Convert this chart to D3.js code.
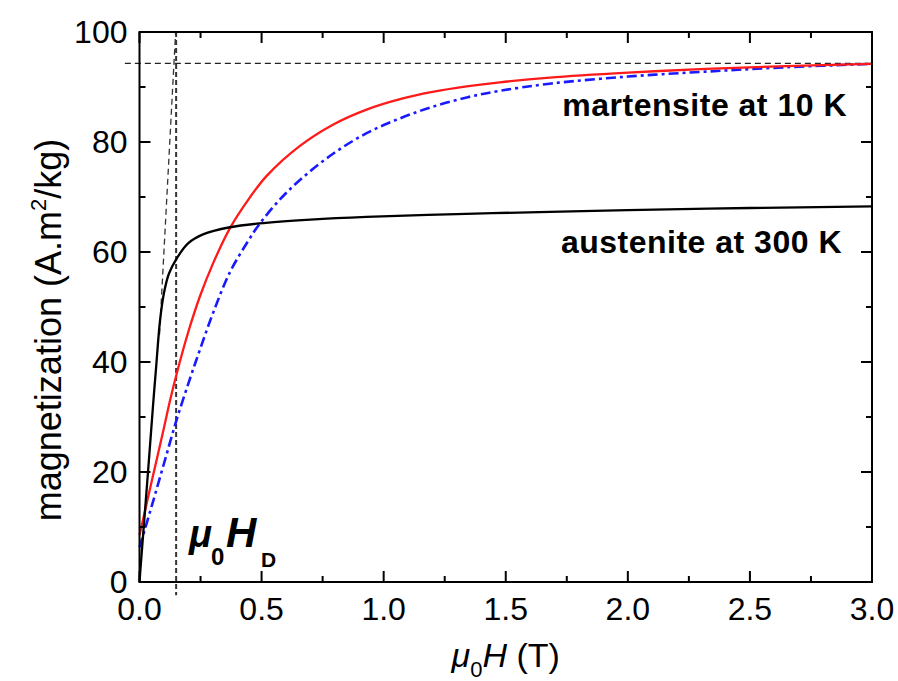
<!DOCTYPE html>
<html>
<head>
<meta charset="utf-8">
<script src="https://cdn.jsdelivr.net/npm/d3@7"></script>
<style>
  body { margin: 0; background: #fff; }
  svg { display: block; font-family: "Liberation Sans", Arial, Helvetica, sans-serif; }
</style>
</head>
<body>
<svg id="chart" width="898" height="681"></svg>
<script>
// field (T) and magnetization (A.m2/kg)
var austenite300K = [
  [0, 0], [0.005, 3], [0.02, 11.5], [0.04, 23], [0.057, 33], [0.068, 39],
  [0.084, 47.5], [0.1, 52.5], [0.12, 56], [0.152, 58.8], [0.2, 61.6], [0.26, 63.2],
  [0.37, 64.5], [0.49, 65.2], [0.7, 65.9], [0.93, 66.4], [1.3, 66.9], [1.68, 67.3],
  [2.0, 67.6], [2.5, 68.0], [3.0, 68.3]
];
var martensite10K = [
  [0, 8.5], [0.05, 18.3], [0.1, 28], [0.125, 33], [0.156, 38.5], [0.2, 45.5],
  [0.248, 52], [0.3, 57.8], [0.37, 64.3], [0.45, 69.8], [0.52, 73.8], [0.657, 79.3],
  [0.794, 83.2], [0.93, 85.9], [1.067, 87.8], [1.2, 89.1], [1.34, 90.1], [1.476, 90.85],
  [1.68, 91.7], [2.0, 92.6], [2.32, 93.3], [2.65, 93.8], [3.0, 94.2]
];
var martensiteDash = [
  [0, 6.3], [0.05, 13.8], [0.1, 21.5], [0.152, 29.5], [0.207, 37], [0.248, 42.3],
  [0.302, 49], [0.37, 56.3], [0.445, 62], [0.49, 65], [0.57, 69.3], [0.657, 73.1],
  [0.794, 77.9], [0.93, 81.6], [1.067, 84.3], [1.2, 86.4], [1.34, 88.1], [1.476, 89.3],
  [1.68, 90.6], [2.0, 91.9], [2.32, 92.8], [2.65, 93.6], [3.0, 94.2]
];
var saturationM = 94.3;
var demagH = 0.15;
var slopeLine = [[0.082, 45], [0.148, 100]];
var xTicks = [0, 0.5, 1.0, 1.5, 2.0, 2.5, 3.0];
var yTicks = [0, 20, 40, 60, 80, 100];

var svg = d3.select("#chart");
var plotL = 139.5, plotR = 872, plotT = 32, plotB = 582;

var x = d3.scaleLinear().domain([0, 3]).range([plotL, plotR]);
var y = d3.scaleLinear().domain([0, 100]).range([plotB, plotT]);

var line = d3.line()
  .x(function(d) { return x(d[0]); })
  .y(function(d) { return y(d[1]); })
  .curve(d3.curveCatmullRom.alpha(0.5));

// reference dashed lines
svg.append("line")
  .attr("x1", x(-0.06)).attr("x2", x(3))
  .attr("y1", y(saturationM)).attr("y2", y(saturationM))
  .attr("stroke", "#222").attr("stroke-width", 1.3)
  .attr("stroke-dasharray", "6,4");

svg.append("line")
  .attr("x1", x(demagH)).attr("x2", x(demagH))
  .attr("y1", y(100)).attr("y2", y(-2.4))
  .attr("stroke", "#333").attr("stroke-width", 2)
  .attr("stroke-dasharray", "5,3");

svg.append("line")
  .attr("x1", x(slopeLine[0][0])).attr("y1", y(slopeLine[0][1]))
  .attr("x2", x(slopeLine[1][0])).attr("y2", y(slopeLine[1][1]))
  .attr("stroke", "#333").attr("stroke-width", 1.3)
  .attr("stroke-dasharray", "6,4");

// curves
svg.append("path").datum(martensiteDash)
  .attr("d", line).attr("fill", "none")
  .attr("stroke", "#1a1aff").attr("stroke-width", 2.6)
  .attr("stroke-dasharray", "10,4,3,4");

svg.append("path").datum(martensite10K)
  .attr("d", line).attr("fill", "none")
  .attr("stroke", "#ff1a1a").attr("stroke-width", 2.3);

svg.append("path").datum(austenite300K)
  .attr("d", line).attr("fill", "none")
  .attr("stroke", "#000").attr("stroke-width", 2.3);

// frame and ticks (inward on all sides)
var xMinor = d3.range(0.25, 3, 0.5);
var yMinor = d3.range(10, 100, 20);

var frame = svg.append("g");
frame.append("rect")
  .attr("x", plotL).attr("y", plotT)
  .attr("width", plotR - plotL).attr("height", plotB - plotT)
  .attr("fill", "none").attr("stroke", "#000").attr("stroke-width", 2);

function xTick(v, len) {
  frame.append("line").attr("x1", x(v)).attr("x2", x(v))
    .attr("y1", plotB).attr("y2", plotB - len)
    .attr("stroke", "#000").attr("stroke-width", 2);
  frame.append("line").attr("x1", x(v)).attr("x2", x(v))
    .attr("y1", plotT).attr("y2", plotT + len)
    .attr("stroke", "#000").attr("stroke-width", 2);
}
function yTick(v, len) {
  frame.append("line").attr("y1", y(v)).attr("y2", y(v))
    .attr("x1", plotL).attr("x2", plotL + len)
    .attr("stroke", "#000").attr("stroke-width", 2);
  frame.append("line").attr("y1", y(v)).attr("y2", y(v))
    .attr("x1", plotR).attr("x2", plotR - len)
    .attr("stroke", "#000").attr("stroke-width", 2);
}
xTicks.forEach(function(v) { xTick(v, 11); });
xMinor.forEach(function(v) { xTick(v, 6); });
yTicks.forEach(function(v) { yTick(v, 11); });
yMinor.forEach(function(v) { yTick(v, 6); });

// tick labels
svg.selectAll(".xl").data(xTicks).enter().append("text")
  .attr("x", function(d) { return x(d); })
  .attr("y", plotB + 38)
  .attr("text-anchor", "middle")
  .attr("font-size", 32)
  .text(function(d) { return d.toFixed(1); });

svg.selectAll(".yl").data(yTicks).enter().append("text")
  .attr("x", plotL - 12)
  .attr("y", function(d) { return y(d) + 11; })
  .attr("text-anchor", "end")
  .attr("font-size", 32)
  .text(function(d) { return d; });

// axis titles
var yt = svg.append("text")
  .attr("transform", "translate(61,330) rotate(-90)")
  .attr("text-anchor", "middle")
  .attr("font-size", 36);
yt.append("tspan").text("magnetization (A.m");
yt.append("tspan").attr("font-size", 22).attr("dy", -15).text("2");
yt.append("tspan").attr("dy", 15).text("/kg)");

var xt = svg.append("text")
  .attr("x", (plotL + plotR) / 2)
  .attr("y", 667)
  .attr("text-anchor", "middle")
  .attr("font-size", 34);
xt.append("tspan").attr("font-style", "italic").text("μ");
xt.append("tspan").attr("font-size", 22).attr("dy", 10).text("0");
xt.append("tspan").attr("font-style", "italic").attr("dy", -10).text("H");
xt.append("tspan").text(" (T)");

// annotations
svg.append("text")
  .attr("x", 847).attr("y", 116)
  .attr("text-anchor", "end")
  .attr("font-size", 32).attr("font-weight", "bold")
  .attr("letter-spacing", 0.5)
  .text("martensite at 10 K");

svg.append("text")
  .attr("x", 842).attr("y", 253)
  .attr("text-anchor", "end")
  .attr("font-size", 32).attr("font-weight", "bold")
  .attr("letter-spacing", 0.5)
  .text("austenite at 300 K");

var hd = svg.append("g").attr("font-weight", "bold");
hd.append("text").attr("x", 189).attr("y", 547)
  .attr("font-size", 38).attr("font-style", "italic").text("μ");
hd.append("text").attr("x", 211).attr("y", 565)
  .attr("font-size", 24).text("0");
hd.append("text").attr("x", 226).attr("y", 547)
  .attr("font-size", 42).attr("font-style", "italic").text("H");
hd.append("text").attr("x", 261).attr("y", 567)
  .attr("font-size", 21).text("D");
</script>
</body>
</html>
